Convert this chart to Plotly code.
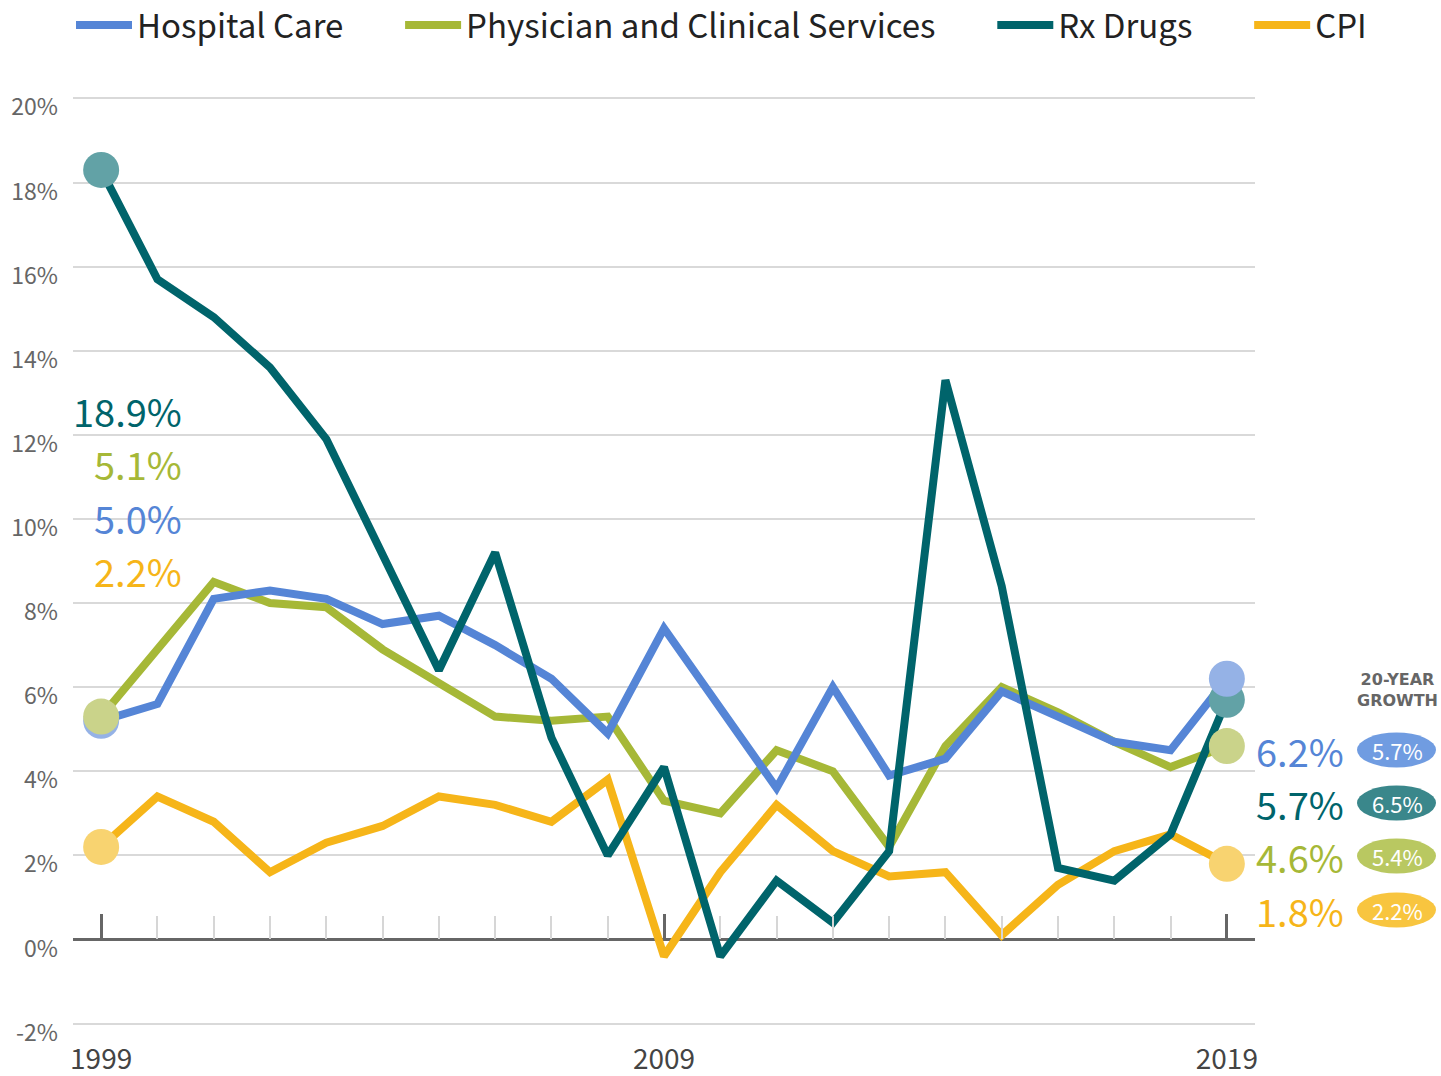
import plotly.graph_objects as go

# ── Datos (tasas de crecimiento anual, %) ───────────────────────────────────
years = list(range(1999, 2020))

hospital = [5.2, 5.6, 8.1, 8.3, 8.1, 7.5, 7.7, 7.0, 6.2, 4.9, 7.4,
            5.5, 3.6, 6.0, 3.9, 4.3, 5.9, 5.3, 4.7, 4.5, 6.2]
physician = [5.3, 6.9, 8.5, 8.0, 7.9, 6.9, 6.1, 5.3, 5.2, 5.3, 3.3,
             3.0, 4.5, 4.0, 2.2, 4.6, 6.0, 5.4, 4.7, 4.1, 4.6]
rx_drugs = [18.3, 15.7, 14.8, 13.6, 11.9, 9.1, 6.4, 9.2, 4.8, 2.0, 4.1,
            -0.4, 1.4, 0.4, 2.1, 13.3, 8.4, 1.7, 1.4, 2.5, 5.7]
cpi = [2.2, 3.4, 2.8, 1.6, 2.3, 2.7, 3.4, 3.2, 2.8, 3.8, -0.4,
       1.6, 3.2, 2.1, 1.5, 1.6, 0.1, 1.3, 2.1, 2.5, 1.8]

series_names = ["Hospital Care", "Physician and Clinical Services", "Rx Drugs", "CPI"]
start_labels = ["5.0%", "5.1%", "18.9%", "2.2%"]
end_labels = ["6.2%", "4.6%", "5.7%", "1.8%"]
growth_labels = ["5.7%", "5.4%", "6.5%", "2.2%"]

y_ticks = [-2, 0, 2, 4, 6, 8, 10, 12, 14, 16, 18, 20]
x_ticks = [1999, 2009, 2019]

# ── Estilo ──────────────────────────────────────────────────────────────────
LINE = {"Hospital Care": "#5585d6", "Physician and Clinical Services": "#a6b837",
        "Rx Drugs": "#00646b", "CPI": "#f6b519"}
DOT = {"Hospital Care": "#95b2e6", "Physician and Clinical Services": "#cad38a",
       "Rx Drugs": "#62a2a6", "CPI": "#f8d370"}
BADGE = {"Hospital Care": "#709ce1", "Physician and Clinical Services": "#b9c861",
         "Rx Drugs": "#3a878b", "CPI": "#f8c53f"}
FONT = "Noto Sans CJK JP, Noto Sans, sans-serif"
NBSP = "\u00a0"

W, H = 1441, 1076
M = dict(l=73, r=186, t=90, b=44, autoexpand=False)
Y_RANGE = [-2.2, 20.2]
X_RANGE = [1998.5, 2019.5]


def px_x(px):
    return (px - M["l"]) / (W - M["l"] - M["r"])


def px_y(py):
    return (H - M["b"] - py) / (H - M["t"] - M["b"])


data = dict(zip(series_names, [hospital, physician, rx_drugs, cpi]))
# separación entre entradas de la leyenda (espacios duros al final)
pad = {"Hospital Care": 7, "Physician and Clinical Services": 7, "Rx Drugs": 7, "CPI": 0}

fig = go.Figure()

# orden de dibujo: CPI abajo, Rx arriba (la leyenda mantiene el orden original)
for name in ["CPI", "Physician and Clinical Services", "Hospital Care", "Rx Drugs"]:
    fig.add_trace(go.Scatter(
        x=years, y=data[name], mode="lines", name=name + NBSP * pad[name],
        line=dict(color=LINE[name], width=8),
        legendrank=series_names.index(name) + 1,
        hoverinfo="skip",
    ))

# puntos al inicio y al final
for name in ["CPI", "Rx Drugs", "Hospital Care", "Physician and Clinical Services"]:
    vals = data[name]
    fig.add_trace(go.Scatter(
        x=[years[0], years[-1]], y=[vals[0], vals[-1]], mode="markers",
        marker=dict(color=DOT[name], size=36, line=dict(width=0)),
        showlegend=False, hoverinfo="skip",
    ))

# eje auxiliar: marcas de años sobre la línea de 0%
zero_pos = (0 - Y_RANGE[0]) / (Y_RANGE[1] - Y_RANGE[0])
fig.add_trace(go.Scatter(x=[years[0]], y=[None], xaxis="x2", showlegend=False,
                         hoverinfo="skip"))

# etiquetas a la izquierda
left_y = [517, 463, 410, 570]
for name, txt, py in zip(series_names, start_labels, left_y):
    fig.add_annotation(
        x=px_x(184), y=px_y(py), xref="paper", yref="paper",
        xanchor="right", yanchor="middle", showarrow=False, text=txt,
        font=dict(family=FONT, size=38, color=LINE[name]),
    )

# etiquetas a la derecha + insignias de crecimiento a 20 años
right_y = [750, 856, 803, 910]
for name, txt, g, py in zip(series_names, end_labels, growth_labels, right_y):
    fig.add_annotation(
        x=px_x(1346), y=px_y(py), xref="paper", yref="paper",
        xanchor="right", yanchor="middle", showarrow=False, text=txt,
        font=dict(family=FONT, size=38, color=LINE[name]),
    )
    fig.add_shape(
        type="circle", xref="paper", yref="paper",
        x0=px_x(1357), x1=px_x(1436), y0=px_y(py - 17.5), y1=px_y(py + 17.5),
        fillcolor=BADGE[name], line=dict(width=0),
    )
    fig.add_annotation(
        x=px_x(1397), y=px_y(py), xref="paper", yref="paper",
        xanchor="center", yanchor="middle", showarrow=False, text=g,
        font=dict(family=FONT, size=22, color="white"),
    )

fig.add_annotation(
    x=px_x(1397), y=px_y(690), xref="paper", yref="paper",
    xanchor="center", yanchor="middle", showarrow=False,
    text="<b>20-YEAR<br>GROWTH</b>", align="center",
    font=dict(family="DejaVu Sans, sans-serif", size=16, color="#666666"),
)

fig.update_layout(
    width=W, height=H, margin=M,
    paper_bgcolor="white", plot_bgcolor="white",
    showlegend=True,
    legend=dict(
        orientation="h", xref="paper", yref="paper",
        x=px_x(1372), y=px_y(-3), xanchor="right", yanchor="top",
        font=dict(family=FONT, size=33, color="#222222"),
        itemwidth=56, bgcolor="rgba(0,0,0,0)",
    ),
    xaxis=dict(
        range=X_RANGE, tickvals=x_ticks, ticktext=[str(v) for v in x_ticks],
        showgrid=False, zeroline=False, showline=False, ticks="",
        tickfont=dict(family=FONT, size=28, color="#444444"),
        ticklabelstandoff=8, automargin=False,
    ),
    xaxis2=dict(
        overlaying="x", anchor="free", position=zero_pos, side="bottom",
        range=X_RANGE, tickvals=x_ticks, ticks="inside", ticklen=25,
        tickwidth=3, tickcolor="#666666", showticklabels=False,
        showgrid=False, zeroline=False, showline=False, automargin=False,
        minor=dict(ticks="inside", dtick=1, tick0=1999, ticklen=23,
                   tickwidth=2, tickcolor="#d6d6d6", showgrid=False),
    ),
    yaxis=dict(
        range=Y_RANGE, tickvals=y_ticks, ticktext=[f"{v}%" for v in y_ticks],
        showgrid=True, gridcolor="#d9d9d9", gridwidth=1.5,
        zeroline=True, zerolinecolor="#666666", zerolinewidth=3,
        showline=False, ticks="",
        tickfont=dict(family=FONT, size=23, color="#666666"),
        ticklabelstandoff=14, ticklabelshift=9, automargin=False,
    ),
)

fig.write_html("out.html", config={"displayModeBar": False},
               post_script="document.body.style.margin='0px';")
